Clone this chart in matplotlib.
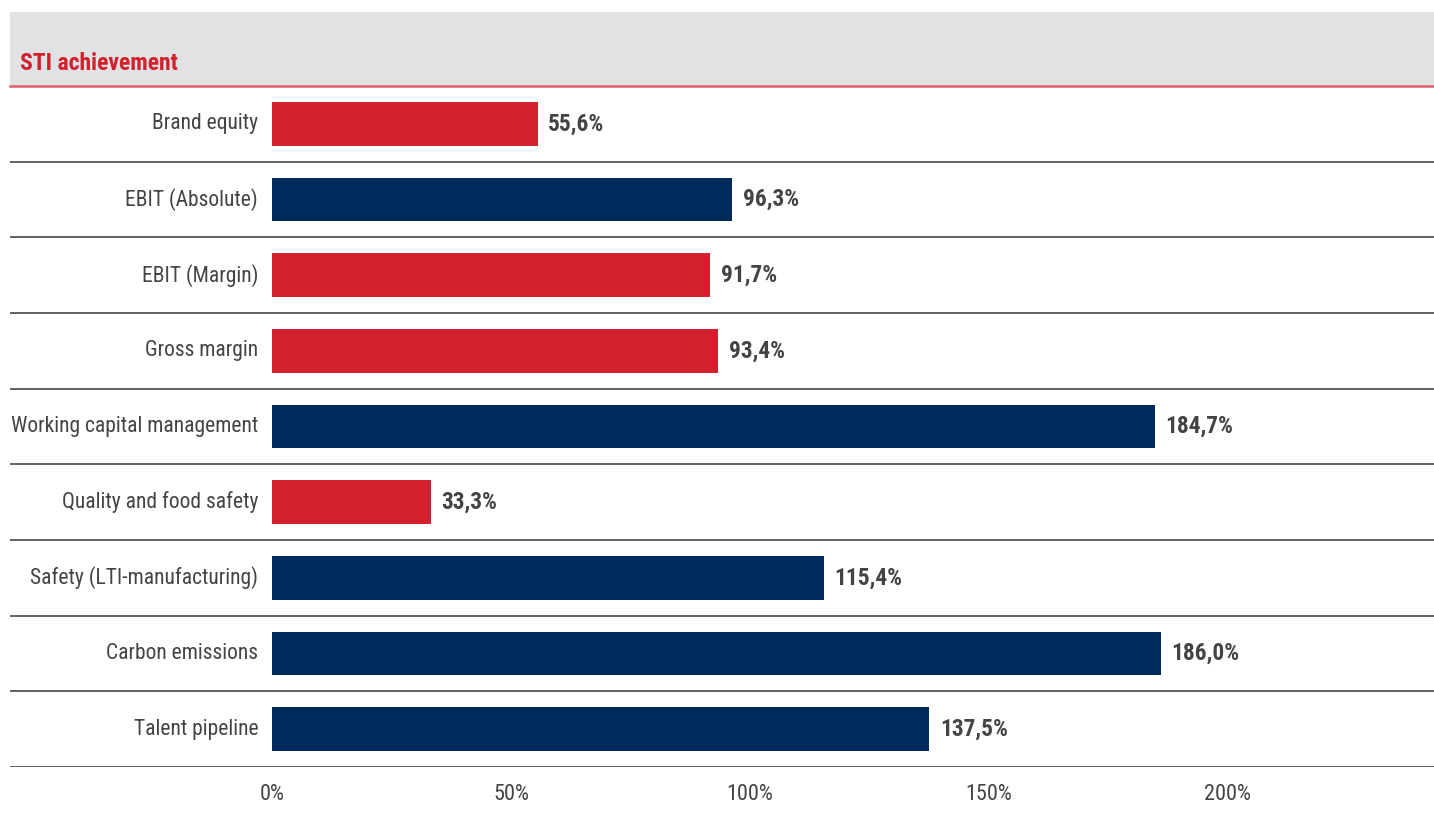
import matplotlib.pyplot as plt
from matplotlib.patches import Rectangle
from matplotlib import font_manager

categories = ["Brand equity", "EBIT (Absolute)", "EBIT (Margin)", "Gross margin",
              "Working capital management", "Quality and food safety",
              "Safety (LTI-manufacturing)", "Carbon emissions", "Talent pipeline"]
values = [55.6, 96.3, 91.7, 93.4, 184.7, 33.3, 115.4, 186.0, 137.5]
is_red = [True, False, True, True, False, True, False, False, False]
ticks = [0, 50, 100, 150, 200]

RED = "#d2212e"
NAVY = "#002a5c"
GREY_TXT = "#444444"

names = {f.name for f in font_manager.fontManager.ttflist}
fam = "Roboto"
for cand in ["Roboto Condensed", "Archivo Narrow", "Liberation Sans Narrow", "Barlow Semi Condensed"]:
    if cand in names:
        fam = cand
        break
plt.rcParams['font.family'] = [fam, 'DejaVu Sans']

W, H = 1434, 835
fig = plt.figure(figsize=(W / 100, H / 100), dpi=100)

# axes covers full row width; 0% sits at x=272px, 4.78 px per %
left_px, right_px, top_px, bot_px = 10, 1434, 86, 767
ax = fig.add_axes([left_px / W, (H - bot_px) / H, (right_px - left_px) / W, (bot_px - top_px) / H])
ppu = 4.78
x0 = -(272 - left_px) / ppu
x1 = (right_px - 272) / ppu
ax.set_xlim(x0, x1)
ax.set_ylim(len(categories) - 0.5, -0.5)

for i, (c, v, r) in enumerate(zip(categories, values, is_red)):
    ax.barh(i, v, height=0.58, color=RED if r else NAVY, zorder=2)
    ax.text(v + 2.2, i, f"{v:.1f}%".replace(".", ","), va='center', ha='left',
            fontsize=16.8, fontweight='bold', color=GREY_TXT)
    ax.text(-2.9, i, c, va='center', ha='right', fontsize=15.5, color=GREY_TXT)

for i in range(len(categories)):
    ax.axhline(i + 0.5, color="#555555", lw=1.3, zorder=1)

for s in ax.spines.values():
    s.set_visible(False)
ax.set_yticks([])
ax.set_xticks(ticks)
ax.set_xticklabels([f"{t}%" for t in ticks], fontsize=16, color=GREY_TXT)
ax.tick_params(axis='x', length=0, pad=12)

# header band
fig.patches.append(Rectangle((left_px / W, (H - top_px) / H), (W - left_px) / W, (top_px - 12) / H,
                             transform=fig.transFigure, facecolor="#e1e2e4", edgecolor='none', zorder=0))
fig.add_artist(plt.Line2D([left_px / W, 1], [(H - top_px) / H] * 2, transform=fig.transFigure,
                          color="#e0606a", lw=1.8))
fig.text(20 / W, (H - 64) / H, "STI achievement", color=RED, fontsize=17,
         fontweight='bold', va='center', ha='left')

fig.savefig("out.png", dpi=100)
